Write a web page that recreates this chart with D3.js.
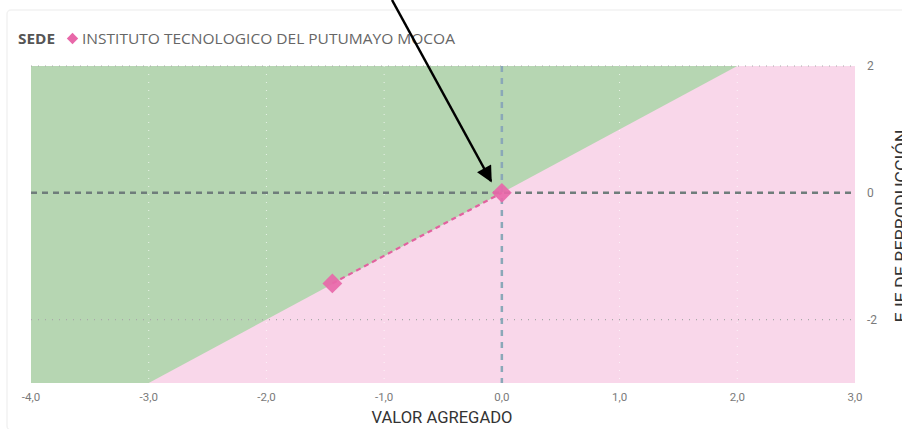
<!DOCTYPE html>
<html><head><meta charset="utf-8">
<script src="https://cdn.jsdelivr.net/npm/d3@7/dist/d3.min.js"></script>
<style>
body{margin:0;background:#fff;overflow:hidden}
svg{display:block}
</style></head>
<body><svg id="c" width="902" height="429"></svg>
<script>
const legendTitle = "SEDE";
const seriesName = "INSTITUTO TECNOLOGICO DEL PUTUMAYO MOCOA";
const xTicks = [-4, -3, -2, -1, 0, 1, 2, 3];
const yTicks = [-2, 0, 2];
const xDomain = [-4, 3];
const yDomain = [-3, 2];
const pointX = [-1.44, 0];
const pointY = [-1.43, 0];
const xTitle = "VALOR AGREGADO";
const yTitle = "EJE DE REPRODUCCIÓN";

const svg = d3.select("#c");
const x = d3.scaleLinear().domain(xDomain).range([31, 855]);
const y = d3.scaleLinear().domain(yDomain).range([383, 66]);

// card edge
svg.append("rect").attr("x",7).attr("y",10).attr("width",900).attr("height",420)
  .attr("rx",4).attr("fill","none").attr("stroke","#f2f2f2").attr("stroke-width",1.5);

// regions: below y=x pink, above green
const [x0,x1] = xDomain, [y0,y1] = yDomain;
svg.append("rect").attr("x",x(x0)).attr("y",y(y1)).attr("width",x(x1)-x(x0)).attr("height",y(y0)-y(y1)).attr("fill","#f9d7ea");
const green = [[x0,y1],[x0,y0],[y0,y0],[y1,y1]];
svg.append("path").attr("d", d3.line().x(d=>x(d[0])).y(d=>y(d[1]))(green)+"Z").attr("fill","#b6d6b2");

// gridlines
const g = svg.append("g");
xTicks.filter(t=>t!==0 && t>x0 && t<x1).forEach(t=>{
  g.append("line").attr("x1",x(t)).attr("x2",x(t)).attr("y1",y(y1)).attr("y2",y(y0))
   .attr("stroke","#ffffff").attr("stroke-opacity",0.7).attr("stroke-width",1).attr("stroke-dasharray","1,7");
});
yTicks.filter(t=>t!==0).forEach(t=>{
  g.append("line").attr("x1",x(x0)).attr("x2",x(x1)).attr("y1",y(t)).attr("y2",y(t))
   .attr("stroke","#a9a9a9").attr("stroke-width",1.2).attr("stroke-dasharray","1,6");
});

// zero lines
svg.append("line").attr("x1",x(0)).attr("x2",x(0)).attr("y1",y(y1)).attr("y2",y(y0))
  .attr("stroke","#8aa8b8").attr("stroke-width",2.5).attr("stroke-dasharray","6,6");
svg.append("line").attr("x1",x(x0)).attr("x2",x(x1)).attr("y1",y(0)).attr("y2",y(0))
  .attr("stroke","#6f7d7b").attr("stroke-width",2.5).attr("stroke-dasharray","6,5");

// connecting dashed line
const pts = pointX.map((v,i)=>[v,pointY[i]]);
svg.append("path").attr("d", d3.line().x(d=>x(d[0])).y(d=>y(d[1]))(pts))
  .attr("fill","none").attr("stroke","#e2619f").attr("stroke-width",2.2).attr("stroke-dasharray","5,4");

// diamonds
svg.selectAll(".pt").data(pts).join("rect").attr("class","pt")
  .attr("x",-7).attr("y",-7).attr("width",14).attr("height",14)
  .attr("transform",d=>`translate(${x(d[0])},${y(d[1])}) rotate(45)`)
  .attr("fill","#e868a9").attr("fill-opacity",0.92);

// x axis labels
svg.selectAll(".xt").data(xTicks).join("text").attr("class","xt")
  .attr("x",d=>x(d)).attr("y",401).attr("text-anchor","middle")
  .attr("font-family","Roboto, 'DejaVu Sans', sans-serif").attr("font-size",11.5).attr("fill","#7a7a7a")
  .text(d=>d3.format(".1f")(d).replace(".",",").replace("−","-"));
// y axis labels
svg.selectAll(".yt").data(yTicks).join("text").attr("class","yt")
  .attr("x",867).attr("y",d=>y(d)+4).attr("text-anchor","start")
  .attr("font-family","Roboto, 'DejaVu Sans', sans-serif").attr("font-size",12).attr("fill","#7a7a7a")
  .text(d=>d3.format("d")(d).replace("−","-"));

// axis titles
svg.append("text").attr("x",442).attr("y",423).attr("text-anchor","middle")
  .attr("font-family","Roboto, 'DejaVu Sans', sans-serif").attr("font-size",16.5).attr("fill","#333")
  .attr("textLength",141).attr("lengthAdjust","spacingAndGlyphs")
  .text(xTitle);
svg.append("text").attr("transform","translate(907,226) rotate(-90)").attr("text-anchor","middle")
  .attr("font-family","Roboto, 'DejaVu Sans', sans-serif").attr("font-size",16.5).attr("fill","#333")
  .attr("textLength",193).attr("lengthAdjust","spacingAndGlyphs")
  .text(yTitle);

// legend
svg.append("text").attr("x",18).attr("y",44).attr("font-family","'Open Sans', sans-serif")
  .attr("font-size",14).attr("font-weight","bold").attr("fill","#555")
  .attr("textLength",37).attr("lengthAdjust","spacingAndGlyphs").text(legendTitle);
svg.append("rect").attr("x",-4).attr("y",-4).attr("width",8).attr("height",8)
  .attr("transform","translate(72.5,38.5) rotate(45)").attr("fill","#e868a9");
svg.append("text").attr("x",82).attr("y",44).attr("font-family","'Open Sans', sans-serif")
  .attr("font-size",15).attr("fill","#666")
  .attr("textLength",373).attr("lengthAdjust","spacingAndGlyphs").text(seriesName);

// annotation arrow
const defs = svg.append("defs");
defs.append("marker").attr("id","ah").attr("viewBox","0 0 10 10").attr("refX",9).attr("refY",5)
  .attr("markerWidth",20).attr("markerHeight",16).attr("orient","auto").attr("markerUnits","userSpaceOnUse")
  .append("path").attr("d","M0,0L10,5L0,10Z").attr("fill","#000");
svg.append("line").attr("x1",392).attr("y1",0).attr("x2",491).attr("y2",181)
  .attr("stroke","#000").attr("stroke-width",2.5).attr("marker-end","url(#ah)");
</script></body></html>
